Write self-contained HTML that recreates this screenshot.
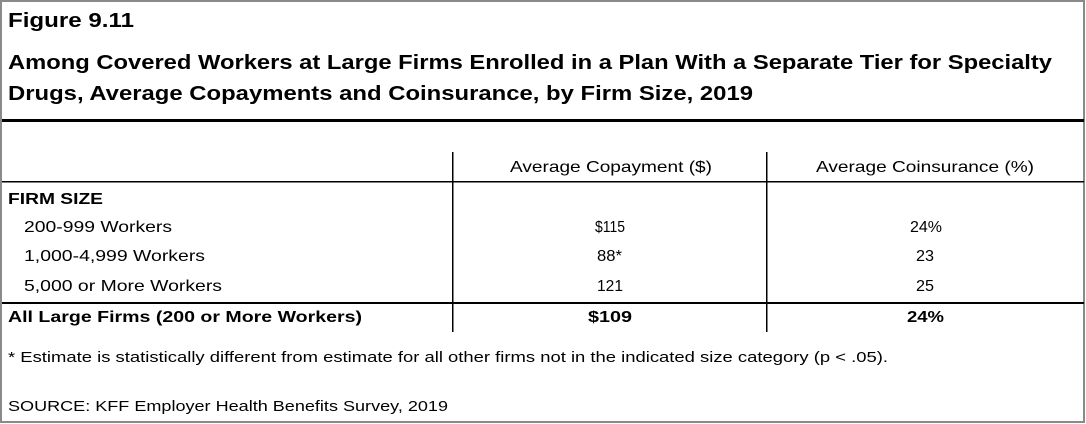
<!DOCTYPE html>
<html><head><meta charset="utf-8"><style>
html,body{margin:0;padding:0;background:#fff}
svg{display:block}
text{font-family:"Liberation Sans",Arial,sans-serif;fill:#000}
.b{font-weight:bold}
</style></head><body>
<svg width="1086" height="424" viewBox="0 0 1086 424">
<rect x="1" y="1" width="1083" height="421" fill="#fff" stroke="#8a8a8a" stroke-width="2"/>
<text x="8" y="27" class="b" font-size="20" textLength="126" lengthAdjust="spacingAndGlyphs">Figure 9.11</text>
<text x="8" y="69" class="b" font-size="20" textLength="1044" lengthAdjust="spacingAndGlyphs">Among Covered Workers at Large Firms Enrolled in a Plan With a Separate Tier for Specialty</text>
<text x="8" y="100" class="b" font-size="20" textLength="745" lengthAdjust="spacingAndGlyphs">Drugs, Average Copayments and Coinsurance, by Firm Size, 2019</text>
<rect x="2" y="119" width="1082" height="3" fill="#000"/>
<rect x="2" y="181" width="1082" height="1.5" fill="#000"/>
<rect x="2" y="302" width="1082" height="2" fill="#000"/>
<rect x="452" y="152" width="1.5" height="180" fill="#000"/>
<rect x="766" y="152" width="1.5" height="180" fill="#000"/>
<g font-size="16" lengthAdjust="spacingAndGlyphs">
<text x="510" y="172" textLength="202" lengthAdjust="spacingAndGlyphs">Average Copayment ($)</text>
<text x="816" y="172" textLength="218" lengthAdjust="spacingAndGlyphs">Average Coinsurance (%)</text>
<text x="8" y="204" class="b" textLength="95" lengthAdjust="spacingAndGlyphs">FIRM SIZE</text>
<text x="24" y="232" textLength="148" lengthAdjust="spacingAndGlyphs">200-999 Workers</text>
<text x="24" y="261" textLength="181" lengthAdjust="spacingAndGlyphs">1,000-4,999 Workers</text>
<text x="24" y="291" textLength="198" lengthAdjust="spacingAndGlyphs">5,000 or More Workers</text>
<text x="8" y="322" class="b" textLength="354" lengthAdjust="spacingAndGlyphs">All Large Firms (200 or More Workers)</text>
<text x="595" y="232" textLength="30" lengthAdjust="spacingAndGlyphs">$115</text>
<text x="910" y="232" textLength="32" lengthAdjust="spacingAndGlyphs">24%</text>
<text x="597" y="261" textLength="25" lengthAdjust="spacingAndGlyphs">88*</text>
<text x="916" y="261" textLength="18" lengthAdjust="spacingAndGlyphs">23</text>
<text x="597" y="291" textLength="26" lengthAdjust="spacingAndGlyphs">121</text>
<text x="916" y="291" textLength="18" lengthAdjust="spacingAndGlyphs">25</text>
<text x="588" y="322" class="b" textLength="44" lengthAdjust="spacingAndGlyphs">$109</text>
<text x="907" y="322" class="b" textLength="37" lengthAdjust="spacingAndGlyphs">24%</text>
</g>
<text x="8" y="362" font-size="15" textLength="880" lengthAdjust="spacingAndGlyphs">* Estimate is statistically different from estimate for all other firms not in the indicated size category (p &lt; .05).</text>
<text x="8" y="411" font-size="15" textLength="440" lengthAdjust="spacingAndGlyphs">SOURCE: KFF Employer Health Benefits Survey, 2019</text>
</svg>
</body></html>
